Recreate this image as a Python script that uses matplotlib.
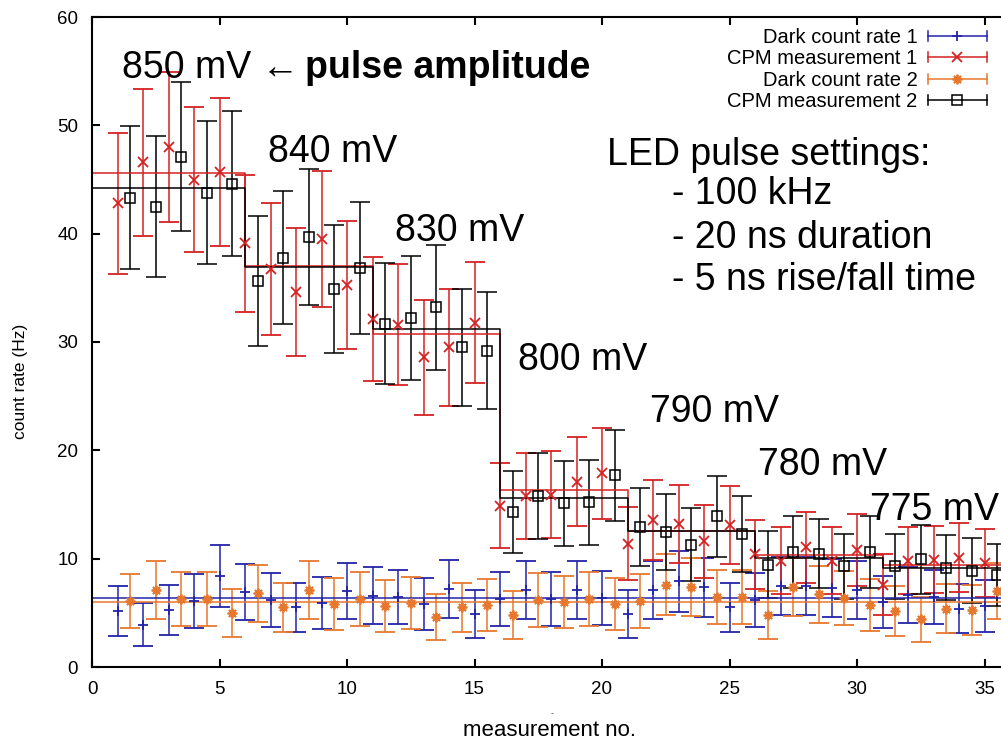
import numpy as np
import matplotlib.pyplot as plt
from matplotlib.lines import Line2D
from matplotlib.legend_handler import HandlerLine2D

plt.rcParams['font.family'] = ['Liberation Sans', 'DejaVu Sans']

# measurement numbers (series 2 taken half a step later)
meas_1 = np.arange(1, 36)
meas_2 = meas_1 + 0.5

# dark count rate 1 (Hz) and error
dark_1 = [5.2, 3.9, 5.3, 6.1, 8.4, 6.9, 6.2, 5.5, 5.9, 7.0,
          6.6, 6.5, 5.8, 7.2, 4.9, 6.3, 7.1, 6.3, 7.1, 6.4,
          4.9, 7.1, 7.9, 7.35, 5.5, 6.2, 7.5, 7.5, 7.3, 7.1,
          6.0, 6.65, 6.5, 5.4, 5.6]
dark_1_err = [2.3, 2.0, 2.3, 2.5, 2.9, 2.6, 2.5, 2.3, 2.4, 2.6,
              2.6, 2.5, 2.4, 2.7, 2.2, 2.5, 2.7, 2.5, 2.7, 2.5,
              2.2, 2.7, 2.8, 2.7, 2.3, 2.5, 2.7, 2.7, 2.7, 2.7,
              2.4, 2.6, 2.5, 2.3, 2.4]

# CPM measurement 1
cpm_1 = [42.8, 46.6, 48.0, 45.0, 45.7, 39.1, 36.7, 34.6, 39.5, 35.3,
         32.1, 31.6, 28.6, 29.5, 31.8, 14.9, 15.8, 15.9, 17.1, 17.9,
         11.4, 13.6, 13.2, 11.6, 13.1, 10.4, 9.8, 11.05, 9.8, 10.8,
         7.6, 9.8, 9.9, 10.1, 9.6]
cpm_1_err = [6.5, 6.8, 6.9, 6.7, 6.8, 6.3, 6.1, 5.9, 6.3, 5.9,
             5.7, 5.6, 5.3, 5.4, 5.6, 3.9, 4.0, 4.0, 4.1, 4.2,
             3.4, 3.7, 3.6, 3.4, 3.6, 3.2, 3.1, 3.3, 3.1, 3.3,
             2.8, 3.1, 3.1, 3.2, 3.1]

# dark count rate 2
dark_2 = [6.1, 7.1, 6.3, 6.3, 5.0, 6.8, 5.5, 7.1, 5.8, 6.3,
          5.6, 5.9, 4.6, 5.5, 5.7, 4.8, 6.2, 6.0, 6.3, 5.8,
          6.1, 7.6, 7.4, 6.5, 6.5, 4.8, 7.4, 6.7, 6.4, 5.7,
          5.2, 4.4, 5.4, 5.3, 7.0]
dark_2_err = [2.5, 2.7, 2.5, 2.5, 2.2, 2.6, 2.3, 2.7, 2.4, 2.5,
              2.4, 2.4, 2.1, 2.3, 2.4, 2.2, 2.5, 2.4, 2.5, 2.4,
              2.5, 2.8, 2.7, 2.5, 2.5, 2.2, 2.7, 2.6, 2.5, 2.4,
              2.3, 2.1, 2.3, 2.3, 2.6]

# CPM measurement 2
cpm_2 = [43.3, 42.5, 47.1, 43.8, 44.6, 35.6, 37.8, 39.7, 34.9, 36.8,
         31.7, 32.2, 33.2, 29.5, 29.2, 14.3, 15.8, 15.1, 15.2, 17.7,
         12.9, 12.5, 11.3, 13.9, 12.3, 9.45, 10.6, 10.45, 9.3, 10.6,
         9.3, 9.95, 9.15, 8.9, 8.5]
cpm_2_err = [6.6, 6.5, 6.9, 6.6, 6.7, 6.0, 6.1, 6.3, 5.9, 6.1,
             5.6, 5.7, 5.8, 5.4, 5.4, 3.8, 4.0, 3.9, 3.9, 4.2,
             3.6, 3.5, 3.4, 3.7, 3.5, 3.1, 3.3, 3.2, 3.0, 3.3,
             3.0, 3.2, 3.0, 3.0, 2.9]

# pulse amplitude groups (5 measurements each) and where each group starts
amplitudes = ['850 mV', '840 mV', '830 mV', '800 mV', '790 mV', '780 mV', '775 mV']
group_edges = [0, 6, 11, 16, 21, 26, 31, 36]

c_blue = '#2323a8'
c_red = '#d42222'
c_orange = '#e8772e'
c_black = '#000000'

fig = plt.figure(figsize=(10.01, 7.42), dpi=100)
ax = fig.add_axes([92/1001, 75/742, 918/1001, 650/742])

ebkw = dict(linestyle='none', elinewidth=1.1, capsize=7, capthick=1.1, markersize=7, markeredgewidth=1.3)
ax.errorbar(meas_1, dark_1, yerr=dark_1_err, color=c_blue, marker='+', **ebkw)
ax.errorbar(meas_1, cpm_1, yerr=cpm_1_err, color=c_red, marker='x', **ebkw)
ax.errorbar(meas_2, dark_2, yerr=dark_2_err, color=c_orange, marker=(8, 2, 0), **ebkw)
ax.errorbar(meas_2, cpm_2, yerr=cpm_2_err, color=c_black, marker='s', mfc='none',
            **{**ebkw, 'markersize': 6.5, 'markeredgewidth': 1.1})

# mean levels
ax.axhline(np.mean(dark_1), color=c_blue, lw=1.1)
ax.axhline(np.mean(dark_2), color=c_orange, lw=1.1)
m1 = np.array(cpm_1).reshape(7, 5).mean(axis=1)
m2 = np.array(cpm_2).reshape(7, 5).mean(axis=1)
ax.step(group_edges, np.append(m1, m1[-1]), where='post', color=c_red, lw=1.1)
ax.step(group_edges, np.append(m2, m2[-1]), where='post', color=c_black, lw=1.1)

ax.set_xlim(0, 36)
ax.set_ylim(0, 60)
ax.set_xticks(range(0, 40, 5))
ax.set_yticks(range(0, 70, 10))
ax.tick_params(direction='in', length=5.5, width=1.5, labelsize=13.5, pad=10,
               top=True, right=True)
for s in ax.spines.values():
    s.set_linewidth(1.5)

ax.set_xlabel('measurement no.', fontsize=16)
ax.xaxis.set_label_coords(0.4985, -0.081)
ax.set_ylabel('count rate (Hz)', fontsize=12.5)
ax.yaxis.set_label_coords(-0.07, 0.44)
fig.text(552/1001, 1 - 713/742, '..', fontsize=5, ha='center', va='center')

# annotations
big = 27
ax.text(1.18, 55.3, amplitudes[0] + ' \u2190', fontsize=big, va='center')
ax.text(8.35, 55.3, 'pulse amplitude', fontsize=big, fontweight='bold', va='center')
ann_pos = [(6.9, 47.55), (11.9, 40.2), (16.7, 28.35), (21.9, 23.5), (26.1, 18.65), (30.5, 14.5)]
for lab, (tx, ty) in zip(amplitudes[1:], ann_pos):
    ax.text(tx, ty, lab, fontsize=big, va='center')
ax.text(20.2, 47.3, 'LED pulse settings:', fontsize=big, va='center')
ax.text(22.75, 43.7, '- 100 kHz', fontsize=big, va='center')
ax.text(22.75, 39.6, '- 20 ns duration', fontsize=big, va='center')
ax.text(22.75, 35.7, '- 5 ns rise/fall time', fontsize=big, va='center')


class CapHandler(HandlerLine2D):
    # gnuplot style key sample: line with end caps
    def create_artists(self, legend, orig_handle, xdescent, ydescent,
                       width, height, fontsize, trans):
        arts = super().create_artists(legend, orig_handle, xdescent, ydescent,
                                      width, height, fontsize, trans)
        y = (height - ydescent) / 2
        h = height * 0.35
        for x in (-xdescent, width - xdescent):
            arts.append(Line2D([x, x], [y - h, y + h], color=orig_handle.get_color(),
                               lw=orig_handle.get_linewidth(), transform=trans))
        return arts


handles = [
    Line2D([], [], color=c_blue, marker='+', lw=1.1, ms=7, mew=1.3),
    Line2D([], [], color=c_red, marker='x', lw=1.1, ms=7, mew=1.3),
    Line2D([], [], color=c_orange, marker=(8, 2, 0), lw=1.1, ms=7, mew=1.3),
    Line2D([], [], color=c_black, marker='s', mfc='none', lw=1.1, ms=6.5, mew=1.1),
]
labels = ['Dark count rate 1', 'CPM measurement 1', 'Dark count rate 2', 'CPM measurement 2']
leg = ax.legend(handles, labels, loc='upper right', bbox_to_anchor=(987/1001, 1 - 28/742),
                bbox_transform=fig.transFigure, frameon=False, markerfirst=False,
                fontsize=14.5, handlelength=2.95, handletextpad=0.5, labelspacing=0.12,
                borderpad=0, borderaxespad=0,
                handler_map={Line2D: CapHandler()})

fig.savefig('out.png', dpi=100)
